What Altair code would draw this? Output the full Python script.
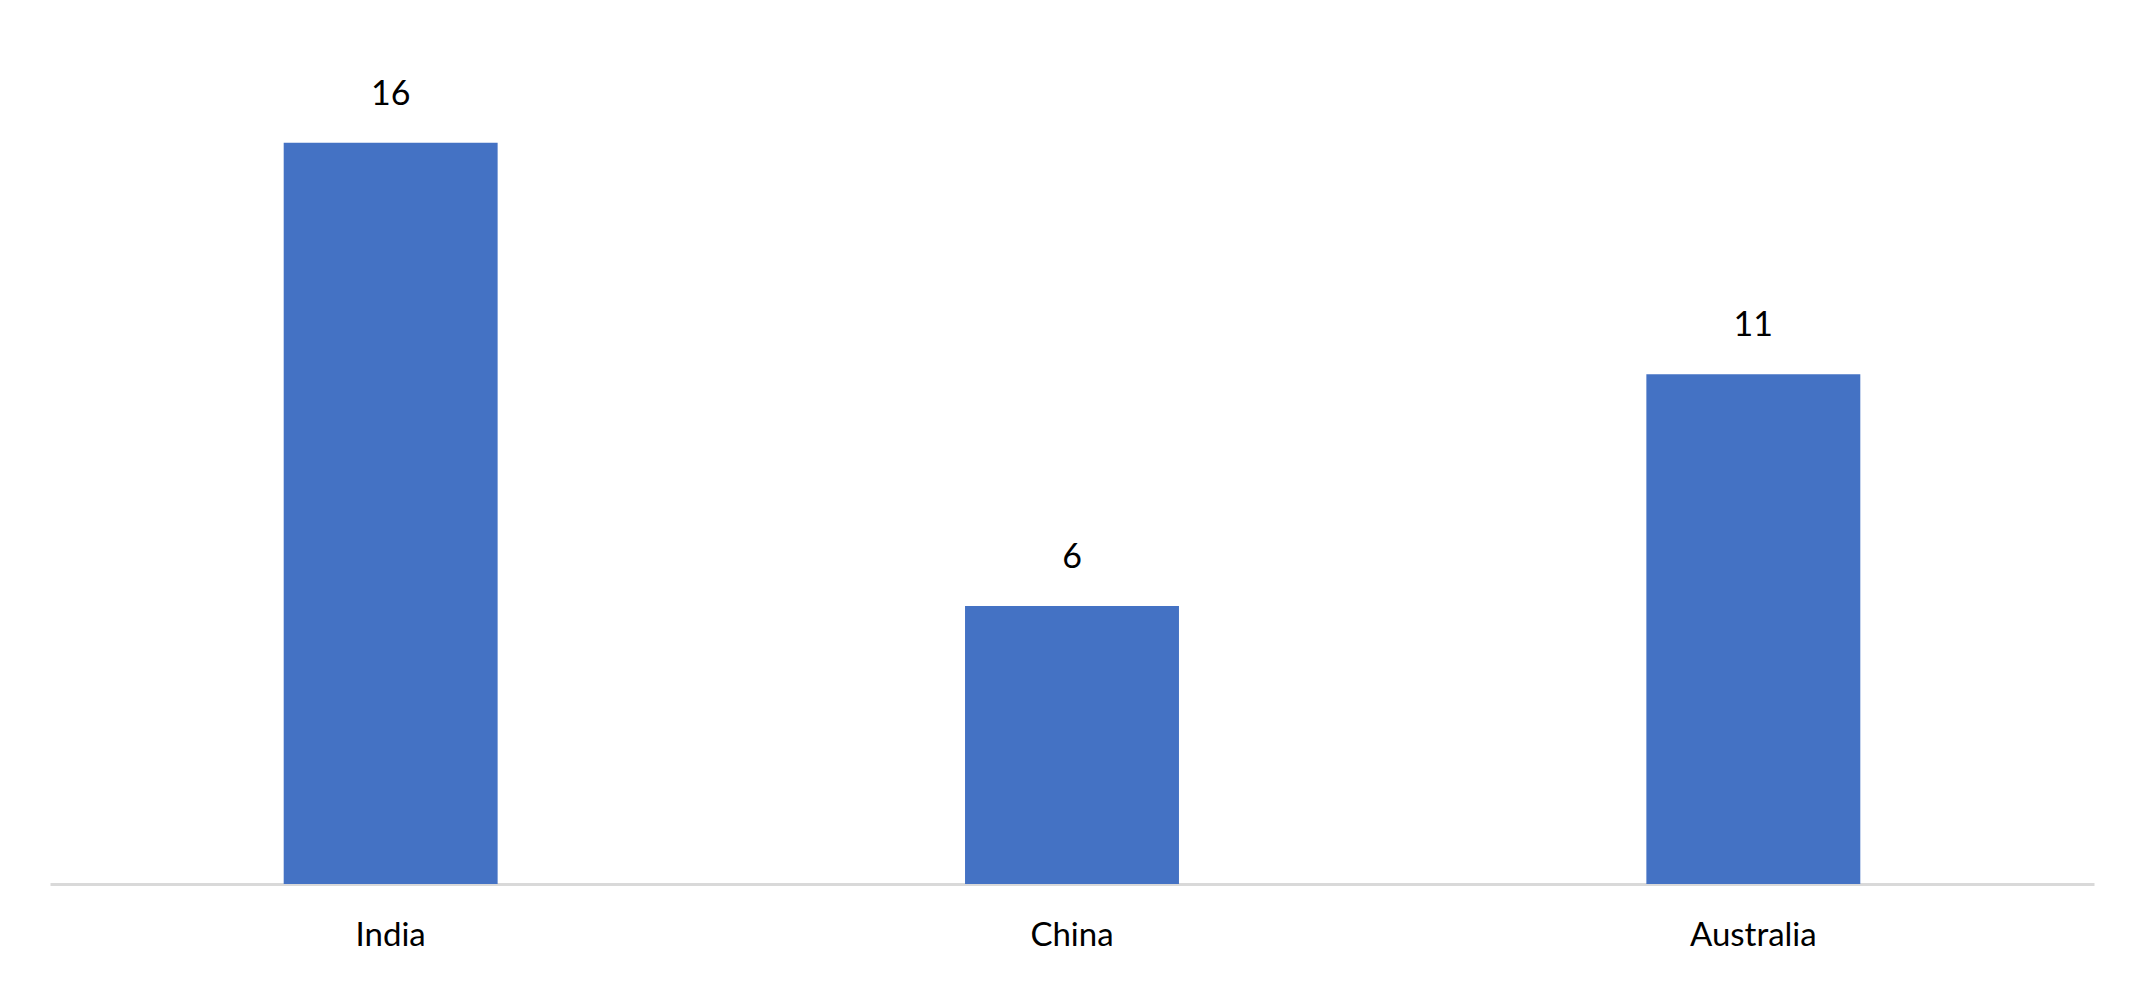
import altair as alt
import pandas as pd

countries = ["India", "China", "Australia"]
values = [16, 6, 11]

df = pd.DataFrame({"country": countries, "value": values})

base = alt.Chart(df).encode(
    x=alt.X(
        "country:N",
        sort=countries,
        scale=alt.Scale(paddingInner=0.686, paddingOuter=0.343),
        axis=alt.Axis(
            title=None,
            labelAngle=0,
            ticks=False,
            domainColor="#d9d9d9",
            domainWidth=3,
            labelFont="Lato",
            labelFontSize=33,
            labelColor="#000000",
            labelPadding=35,
            grid=False,
        ),
    ),
    y=alt.Y(
        "value:Q",
        scale=alt.Scale(domain=[0, 18]),
        axis=None,
    ),
)

bars = base.mark_bar(color="#4472C4")
text = base.mark_text(
    baseline="bottom", dy=-31, font="Lato", fontSize=34, color="#000000"
).encode(text="value:Q")

chart = (
    (bars + text)
    .properties(
        width=2044,
        height=834,
        background="#ffffff",
        autosize=alt.AutoSizeParams(type="none"),
        padding={"left": 42, "top": 42, "right": 40, "bottom": 90},
    )
    .configure_view(stroke=None, strokeWidth=0)
)

chart.save("out.html", embed_options={"renderer": "svg", "actions": False})
